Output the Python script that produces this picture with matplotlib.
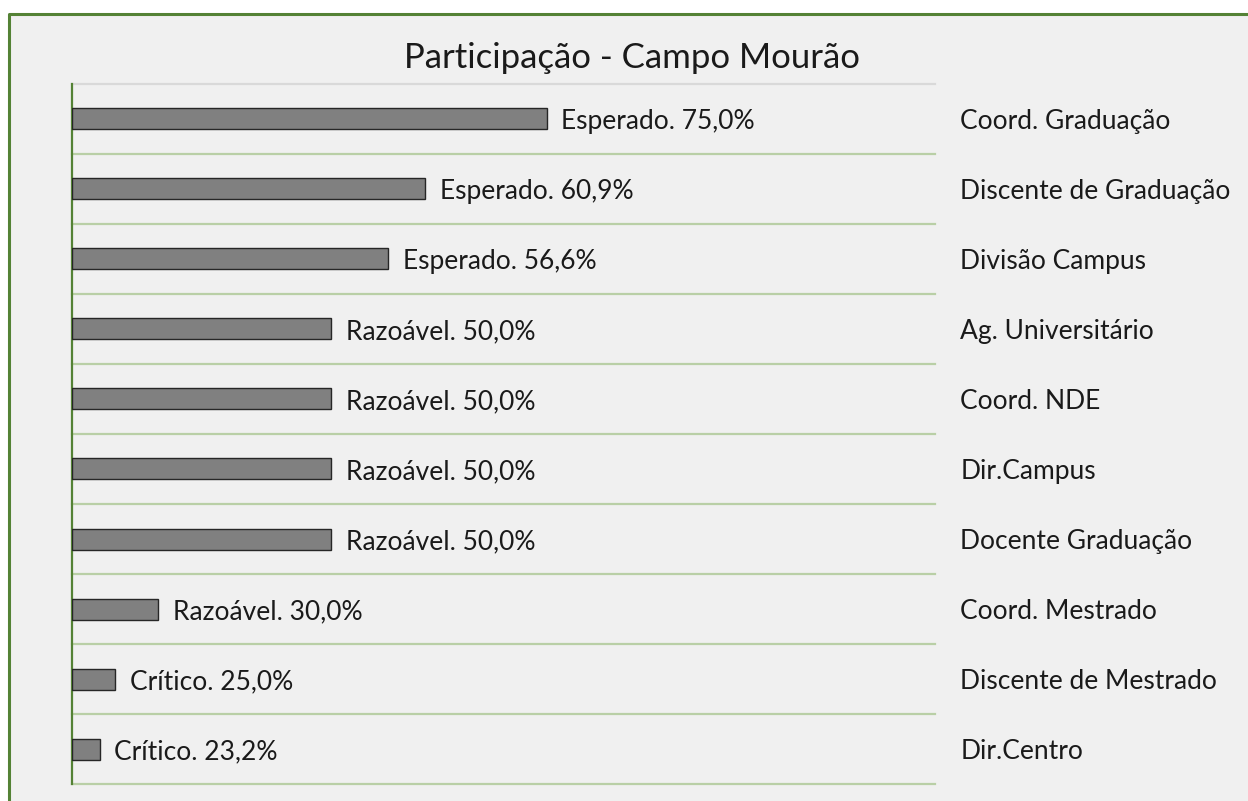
import matplotlib.pyplot as plt
from matplotlib.patches import Rectangle
from matplotlib.lines import Line2D

# Dados
categorias = ['Coord. Graduação', 'Discente de Graduação', 'Divisão Campus',
              'Ag. Universitário', 'Coord. NDE', 'Dir.Campus', 'Docente Graduação',
              'Coord. Mestrado', 'Discente de Mestrado', 'Dir.Centro']
valores = [0.75, 0.609, 0.566, 0.50, 0.50, 0.50, 0.50, 0.30, 0.25, 0.232]
niveis = ['Esperado', 'Esperado', 'Esperado', 'Razoável', 'Razoável', 'Razoável',
          'Razoável', 'Razoável', 'Crítico', 'Crítico']

plt.rcParams['font.family'] = ['Lato', 'DejaVu Sans']

fig = plt.figure(figsize=(12.48, 8.01), dpi=100)
fig.patch.set_facecolor('white')

# fundo cinza claro e moldura verde (so lados esquerdo e superior visiveis)
x0 = 8.5 / 1248
y0 = 1 - 13.5 / 801
fig.patches.append(Rectangle((x0, 0), 1 - x0, y0, transform=fig.transFigure,
                             facecolor='#f0f0f0', edgecolor='none', zorder=-10))
fig.add_artist(Line2D([x0, x0, 1], [0, y0, y0], transform=fig.transFigure,
                      color='#548235', linewidth=2.2, zorder=-5))

ax = fig.add_axes([72 / 1248, 1 - 784 / 801, (935 - 72) / 1248, (784 - 84) / 801])
ax.set_facecolor('none')

xmin = 0.2
y = list(range(len(categorias)))
larguras = [v - xmin for v in valores]
ax.barh(y, larguras, left=xmin, height=0.3, color='#808080',
        edgecolor='#262626', linewidth=1.0, zorder=3)

for yi, v, n in zip(y, valores, niveis):
    txt = f'{n}. ' + f'{v * 100:.1f}'.replace('.', ',') + '%'
    ax.text(v + 0.017, yi + 0.04, txt, va='center', ha='left', fontsize=19, color='#1a1a1a')
    ax.text(1.0295, yi + 0.04, categorias[yi], transform=ax.get_yaxis_transform(),
            va='center', ha='left', fontsize=19, color='#1a1a1a', clip_on=False)

ax.set_xlim(xmin, 1.2)
ax.set_ylim(len(categorias) - 0.5, -0.5)

# linhas de grade horizontais
for k in range(len(categorias) + 1):
    cor = '#d9d9d9' if k == 0 else '#b9cfa6'
    ax.axhline(k - 0.5, color=cor, linewidth=1.6, zorder=1, clip_on=False)

for s in ['top', 'right', 'bottom']:
    ax.spines[s].set_visible(False)
ax.spines['left'].set_color('#548235')
ax.spines['left'].set_linewidth(1.6)
ax.set_xticks([])
ax.set_yticks([])

fig.text(632 / 1248, 1 - 58 / 801, 'Participação - Campo Mourão', ha='center',
         va='center', fontsize=25, color='#1a1a1a')

fig.savefig('out.png', dpi=100, facecolor=fig.get_facecolor())
